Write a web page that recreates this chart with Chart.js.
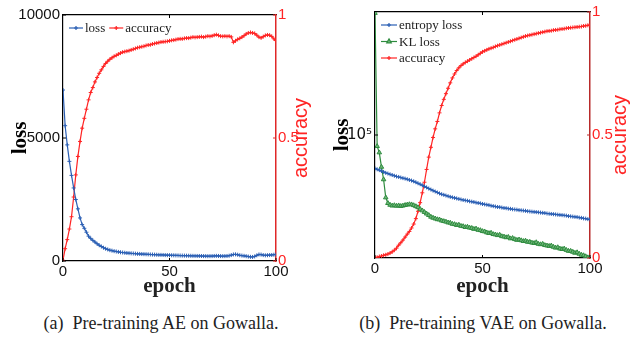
<!DOCTYPE html>
<html lang="en">
	<head>
		<meta charset="UTF-8" />
		<title>Pre-training on Gowalla</title>
		<script src="https://cdn.jsdelivr.net/npm/chart.js"></script>
		<style>
			body {
				margin: 0;
				background: #fff;
				width: 644px;
				height: 337px;
				position: relative;
				overflow: hidden;
			}
			.box {
				position: absolute;
				top: 0;
				width: 322px;
				height: 300px;
			}
			.cap {
				position: absolute;
				top: 312px;
				font-family: "Liberation Serif", serif;
				font-size: 18px;
				line-height: 22px;
				color: #222;
				white-space: pre;
				text-align: center;
			}
		</style>
	</head>
	<body>
		<div class="box" style="left: 0"><canvas id="ae" width="322" height="300"></canvas></div>
		<div class="box" style="left: 322px"><canvas id="vae" width="322" height="300"></canvas></div>
		<div class="cap" style="left: 0; width: 322px">(a)  Pre-training AE on Gowalla.</div>
		<div class="cap" style="left: 322px; width: 322px">(b)  Pre-training VAE on Gowalla.</div>

		<script>
			// epochs 0..100
			const epochs = Array.from({ length: 101 }, (_, i) => i);

			// (a) AE
			const aeLoss = [
				6950, 5500, 4720, 4050, 3480, 2970, 2500, 2120, 1750, 1480,
				1330, 1170, 1010, 920, 840, 770, 700, 640, 590, 540,
				500, 470, 440, 420, 400, 385, 370, 355, 345, 335,
				325, 318, 310, 305, 298, 292, 288, 282, 278, 275,
				270, 265, 262, 258, 255, 250, 248, 245, 240, 238,
				235, 232, 230, 228, 225, 222, 220, 218, 216, 214,
				212, 210, 208, 206, 205, 203, 200, 198, 195, 198,
				200, 205, 210, 205, 200, 198, 200, 205, 215, 240,
				265, 270, 255, 235, 220, 210, 195, 180, 170, 165,
				185, 230, 265, 260, 240, 230, 235, 240, 245, 255,
				265,
			];
			const aeAcc = [
				0.003, 0.05, 0.087, 0.13, 0.18, 0.26, 0.35, 0.425, 0.486, 0.54,
				0.58, 0.617, 0.655, 0.685, 0.705, 0.728, 0.746, 0.763, 0.777, 0.791,
				0.803, 0.812, 0.82, 0.826, 0.832, 0.836, 0.841, 0.845, 0.849, 0.851,
				0.853, 0.855, 0.858, 0.861, 0.864, 0.867, 0.869, 0.871, 0.873, 0.876,
				0.878, 0.879, 0.882, 0.884, 0.886, 0.888, 0.89, 0.891, 0.892, 0.893,
				0.895, 0.897, 0.898, 0.9, 0.902, 0.903, 0.903, 0.905, 0.906, 0.906,
				0.908, 0.91, 0.909, 0.91, 0.911, 0.912, 0.91, 0.912, 0.914, 0.913,
				0.915, 0.918, 0.92, 0.917, 0.914, 0.913, 0.914, 0.913, 0.914, 0.911,
				0.889, 0.895, 0.901, 0.905, 0.91, 0.916, 0.923, 0.927, 0.929, 0.927,
				0.925, 0.918, 0.91, 0.907, 0.912, 0.917, 0.919, 0.918, 0.913, 0.903,
				0.896,
			];
			const aeLossTicks = [0, 5000, 10000];

			// (b) VAE
			const vaeEntropy = [
				53500, 52600, 51800, 50900, 50100, 49200, 48600, 47900, 47300, 46600,
				46000, 45600, 45100, 44600, 44200, 43700, 43100, 42600, 42000, 41300,
				40500, 39800, 39000, 38200, 37500, 36700, 36000, 35300, 34700, 34100,
				33500, 33000, 32600, 32200, 31800, 31400, 31100, 30800, 30500, 30200,
				29900, 29600, 29400, 29200, 28900, 28700, 28500, 28200, 28000, 27800,
				27500, 27300, 27100, 26900, 26600, 26400, 26200, 26000, 25900, 25700,
				25500, 25400, 25200, 25100, 24900, 24800, 24700, 24500, 24400, 24300,
				24200, 24000, 23900, 23800, 23700, 23600, 23500, 23400, 23300, 23200,
				23000, 22900, 22800, 22700, 22600, 22500, 22400, 22300, 22200, 22100,
				21900, 21800, 21700, 21600, 21500, 21300, 21200, 21000, 20900, 20700,
				20600,
			];
			const vaeKL = [
				980000, 81000, 72000, 55000, 43500, 31000, 27900, 27000, 26600, 26800,
				26500, 26700, 26400, 26600, 26900, 27100, 27300, 27200, 26800, 26300,
				25800, 25000, 24300, 23600, 22900, 22300, 21600, 21200, 20900, 20600,
				20500, 20100, 19900, 19700, 19400, 19300, 18900, 18800, 18500, 18600,
				18200, 18100, 17800, 17900, 17600, 17500, 17200, 17300, 16900, 16800,
				16500, 16400, 16100, 15900, 16000, 15600, 15500, 15300, 15400, 15000,
				14900, 14700, 14800, 14400, 14500, 14200, 14000, 14100, 13900, 13700,
				13800, 13500, 13500, 13300, 13200, 13400, 13000, 12900, 13000, 12700,
				12600, 12500, 12600, 12300, 12100, 12200, 11900, 11800, 11900, 11600,
				11400, 11400, 11200, 11000, 11100, 10800, 10600, 10500, 10300, 10100,
				10050,
			];
			const vaeAcc = [
				0.0, 0.003, 0.006, 0.008, 0.011, 0.013, 0.016, 0.02, 0.025, 0.032,
				0.04, 0.052, 0.062, 0.073, 0.085, 0.097, 0.108, 0.122, 0.138, 0.16,
				0.19, 0.225, 0.265, 0.308, 0.36, 0.41, 0.45, 0.49, 0.525, 0.555,
				0.59, 0.62, 0.645, 0.668, 0.69, 0.712, 0.732, 0.748, 0.762, 0.773,
				0.782, 0.789, 0.795, 0.8, 0.805, 0.81, 0.815, 0.82, 0.826, 0.832,
				0.838, 0.842, 0.846, 0.85, 0.853, 0.856, 0.86, 0.863, 0.866, 0.869,
				0.872, 0.875, 0.878, 0.881, 0.884, 0.887, 0.89, 0.893, 0.896, 0.899,
				0.902, 0.904, 0.906, 0.908, 0.91, 0.912, 0.914, 0.916, 0.918, 0.92,
				0.922, 0.923, 0.924, 0.926, 0.927, 0.928, 0.93, 0.931, 0.932, 0.934,
				0.935, 0.936, 0.937, 0.938, 0.939, 0.94, 0.941, 0.943, 0.944, 0.946,
				0.947,
			];
			const vaeLossTicks = [100000];

			const epochTicks = [0, 50, 100];
			const accTicks = [0, 0.5, 1];

			const BLUE = "#2b5fb4";
			const RED = "#ff2424";
			const GREEN = "#2e8b3e";
			const SERIF = "Liberation Serif";
			const SANS = "Liberation Sans";

			Chart.defaults.font.family = SANS;
			Chart.defaults.color = "#000";

			const pts = (ys) => ys.map((y, i) => ({ x: epochs[i], y: y }));
			const fixTicks = (list) => (s) => {
				s.ticks = list.map((v) => ({ value: v }));
			};

			// small ticks pointing into the plot, like matlab
			const innerTicks = {
				id: "innerTicks",
				afterDatasetsDraw(chart) {
					const { ctx, chartArea: a } = chart;
					ctx.save();
					ctx.lineWidth = 1;
					Object.values(chart.scales).forEach((s) => {
						ctx.strokeStyle = s.options.border.color;
						s.ticks.forEach((t) => {
							const p = s.getPixelForValue(t.value);
							ctx.beginPath();
							if (s.position === "bottom") {
								ctx.moveTo(p, a.bottom);
								ctx.lineTo(p, a.bottom - 3);
							} else if (s.position === "top") {
								ctx.moveTo(p, a.top);
								ctx.lineTo(p, a.top + 3);
							} else if (s.position === "left") {
								ctx.moveTo(a.left, p);
								ctx.lineTo(a.left + 3, p);
							} else {
								ctx.moveTo(a.right, p);
								ctx.lineTo(a.right - 3, p);
							}
							ctx.stroke();
						});
					});
					ctx.restore();
				},
			};

			// legend inside the plot + right axis title read bottom-up
			const boxLegend = {
				id: "boxLegend",
				afterDraw(chart, args, opts) {
					const { ctx, chartArea: a } = chart;
					ctx.save();
					ctx.font = "13px " + SERIF;
					ctx.textBaseline = "middle";
					ctx.textAlign = "left";
					let x = a.left + opts.x;
					let y = a.top + opts.y;
					chart.data.datasets.forEach((ds) => {
						ctx.strokeStyle = ds.borderColor;
						ctx.lineWidth = 1.2;
						ctx.beginPath();
						ctx.moveTo(x, y);
						ctx.lineTo(x + opts.len, y);
						ctx.stroke();
						ctx.fillStyle = ds.pointBackgroundColor || ds.borderColor;
						Chart.helpers.drawPoint(
							ctx,
							{ pointStyle: ds.pointStyle, radius: ds.pointRadius, borderWidth: 1, rotation: 0 },
							x + opts.len / 2,
							y
						);
						ctx.fillStyle = "#222";
						ctx.fillText(ds.label, x + opts.len + 2, y + 1);
						if (opts.horizontal) {
							x += opts.len + 2 + ctx.measureText(ds.label).width + 4;
						} else {
							y += opts.dy;
						}
					});
					// accuracy title
					ctx.fillStyle = RED;
					ctx.font = "20px " + SANS;
					ctx.textAlign = "center";
					ctx.translate(opts.accX, (a.top + a.bottom) / 2);
					ctx.rotate(-Math.PI / 2);
					ctx.fillText("accuracy", 0, 0);
					ctx.restore();
				},
			};

			function makeChart(id, cfg) {
				const lossAxis = {
					position: "left",
					type: cfg.logLoss ? "logarithmic" : "linear",
					min: cfg.lossMin,
					max: cfg.lossMax,
					afterBuildTicks: fixTicks(cfg.lossTicks),
					afterFit: (s) => {
						s.width = cfg.area.left;
					},
					ticks: {
						font: { size: 15, family: cfg.logLoss ? "DejaVu Sans" : SANS },
						padding: 3,
						color: "#111",
						callback: cfg.logLoss ? () => "10\u2075" : (v) => String(v),
					},
					grid: { drawOnChartArea: false, drawTicks: false },
					border: { color: "#000", width: 1.2 },
					title: {
						display: true,
						text: "loss",
						font: { family: SERIF, size: 21, weight: "bold" },
						color: "#000",
						padding: { top: 8, bottom: 0 },
					},
				};
				const accAxis = {
					position: "right",
					min: 0,
					max: 1,
					afterBuildTicks: fixTicks(accTicks),
					afterFit: (s) => {
						s.width = 322 - cfg.area.right;
					},
					ticks: { font: { size: 15 }, padding: 2, color: RED, callback: (v) => String(v) },
					grid: { drawOnChartArea: false, drawTicks: false },
					border: { color: cfg.accBorder, width: 1.5 },
				};
				return new Chart(document.getElementById(id), {
					type: "line",
					data: { datasets: cfg.datasets },
					options: {
						responsive: false,
						animation: false,
						devicePixelRatio: 1,
						layout: { padding: 0 },
						elements: { line: { tension: 0 } },
						plugins: {
							legend: { display: false },
							tooltip: { enabled: false },
							boxLegend: cfg.legend,
						},
						scales: {
							x: {
								type: "linear",
								position: "bottom",
								min: 0,
								max: 100,
								afterBuildTicks: fixTicks(epochTicks),
								afterFit: (s) => {
									s.height = 300 - cfg.area.bottom;
								},
								ticks: { font: { size: 15 }, padding: 2, color: "#111", callback: (v) => String(v) },
								grid: { drawOnChartArea: false, drawTicks: false },
								border: { color: "#000", width: 1.2 },
								title: {
									display: true,
									text: "epoch",
									font: { family: SERIF, size: 21, weight: "bold" },
									color: "#222",
									padding: { top: 0, bottom: 1 },
								},
							},
							xTop: {
								type: "linear",
								position: "top",
								min: 0,
								max: 100,
								afterBuildTicks: fixTicks([50]),
								afterFit: (s) => {
									s.height = cfg.area.top;
								},
								ticks: { display: false },
								grid: { drawOnChartArea: false, drawTicks: false },
								border: { color: "#000", width: 1.2 },
							},
							yLoss: lossAxis,
							yAcc: accAxis,
						},
					},
					plugins: [innerTicks, boxLegend],
				});
			}

			const cross = (label, color, ys, axis) => ({
				label: label,
				data: pts(ys),
				yAxisID: axis,
				borderColor: color,
				backgroundColor: color,
				borderWidth: 1.2,
				pointStyle: "cross",
				pointRadius: 2,
				pointBorderWidth: 1,
			});

			makeChart("ae", {
				area: { left: 63, right: 276, top: 15, bottom: 261 },
				lossMin: 0,
				lossMax: 10000,
				lossTicks: aeLossTicks,
				accBorder: "#e02828",
				legend: { x: 6, y: 13, len: 14, horizontal: true, accX: 301 },
				datasets: [cross("loss", BLUE, aeLoss, "yLoss"), cross("accuracy", RED, aeAcc, "yAcc")],
			});

			makeChart("vae", {
				area: { left: 53, right: 268, top: 10, bottom: 258 },
				logLoss: true,
				lossMin: 10000,
				lossMax: 1000000,
				lossTicks: vaeLossTicks,
				accBorder: "#b82a2a",
				legend: { x: 6, y: 13, len: 16, dy: 16.5, horizontal: false, accX: 298 },
				datasets: [
					cross("entropy loss", BLUE, vaeEntropy, "yLoss"),
					{
						label: "KL loss",
						data: pts(vaeKL),
						yAxisID: "yLoss",
						borderColor: GREEN,
						backgroundColor: "#6fb77a",
						pointBackgroundColor: "#6fb77a",
						borderWidth: 1.2,
						pointStyle: "triangle",
						pointRadius: 2.6,
						pointBorderWidth: 1,
					},
					cross("accuracy", RED, vaeAcc, "yAcc"),
				],
			});
		</script>
	</body>
</html>
